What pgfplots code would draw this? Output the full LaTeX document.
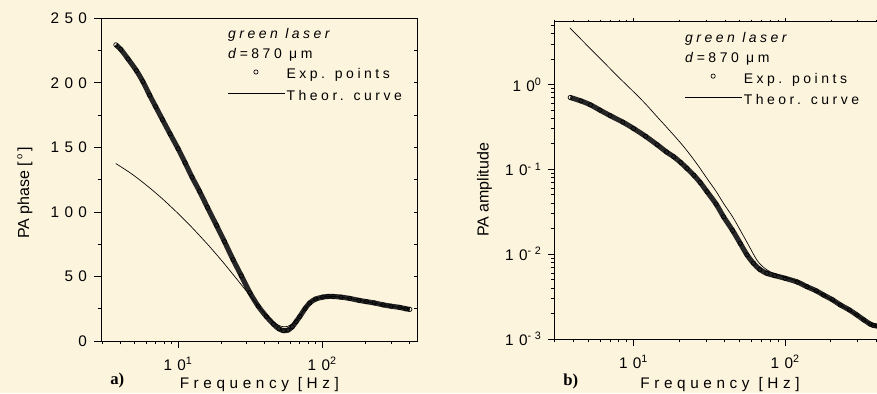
\documentclass[border=0pt]{standalone}
\usepackage{fontspec}
\setmainfont{Liberation Sans}
\newfontfamily\trkA[LetterSpace=35]{Liberation Sans}
\newfontfamily\trkB[LetterSpace=30]{Liberation Sans}
\newfontfamily\trkC[LetterSpace=25]{Liberation Sans}
\newfontfamily\serif{Liberation Serif}
\usepackage{pgfplots}
\usepackage{pgfplotstable}
\pgfplotsset{compat=1.18}
\definecolor{bg}{RGB}{253,244,221}

\pgfplotstableread{
f p
3.7 229.5
4.0 226
4.5 218.5
5.14 209.5
5.7 201
6.35 190.5
7.0 181.5
7.8 171.5
8.8 160.5
10 149
11.2 138
12.5 127
14.1 116
16.0 103.5
18.5 89.5
21 77
24.1 63
27.5 50.5
31.5 37.5
36 27
41 19
46 13
50 9.5
54 8
58 8.5
62 11
66 15
70 19
76 25
82 29.5
90 32.5
101 34
110 34.5
119 34.5
135 34
155 33
180 31.5
203 30.5
230 29.5
265 28
300 27
346 26
380 25
406 24.5
}\phaseexp

\pgfplotstableread{
f p
3.7 137.5
4.5 131.4
5.14 126.8
6.35 118.7
7.5 111.8
8.5 106.3
10 98.8
12 90
14.1 81.7
16 75
18.5 67
21 59.7
24.1 51.5
27.5 43.6
31.5 35.3
36 27.3
41 20
46 14.8
50 12.1
54 11
58 11.5
62 13.3
66 16
70 19.5
76 25
82 29.5
90 32.5
101 34
120 34.5
155 33
203 30.5
265 28
346 26
406 24.5
}\phasetheo

\pgfplotstableread{
f a
3.82 0.703
4.5 0.64
5.2 0.575
6.0 0.499
7.0 0.43
8.5 0.36
10 0.303
12 0.245
14.3 0.195
16.5 0.16
18.4 0.1406
20.5 0.12
22.5 0.1025
25 0.085
27.5 0.07
30.5 0.0545
35 0.039
39.2 0.0276
45 0.019
50.5 0.0134
56 0.0098
61.8 0.0078
68 0.0066
75.7 0.00594
85 0.0056
100 0.00519
120 0.0047
139 0.00414
160 0.0037
179 0.0033
205 0.0029
231 0.00252
265 0.0022
297 0.00192
330 0.00168
363 0.0015
380 0.00145
405 0.00142
}\ampexp

\pgfplotstableread{
f a
3.8 4.65
4.4 3.56
5.18 2.65
6.0 2.04
6.67 1.68
8.0 1.21
10 0.82
12 0.59
14.3 0.416
16.3 0.322
18.4 0.253
21 0.193
23.7 0.147
27 0.107
30.5 0.078
35 0.055
39.2 0.0397
45 0.0275
50.5 0.0192
57 0.013
65 0.00853
72 0.0070
79.6 0.0062
90 0.0057
100 0.00533
120 0.0048
139 0.0042
179 0.0033
231 0.00252
297 0.00192
363 0.0015
405 0.00142
}\amptheo

\newcommand\tickfont{\trkA\fontsize{11.5}{13}\selectfont}
\newcommand\labfont{\trkB\fontsize{11.5}{13}\selectfont}
\newcommand\legfont{\trkC\fontsize{10.5}{12}\selectfont}
\newcommand\decade{\pgfmathparse{int(round(\tick/2.302585))}\pgfmathresult}
\tikzset{txtlab/.style={font=\legfont, inner sep=0pt, anchor=base west}}
\pgfplotsset{
  panelstyle/.style={
    scale only axis,
    axis line style={black, line width=0.7pt},
    tick style={black, line width=0.6pt},
    tick align=outside, xtick pos=left, ytick pos=left,
    major tick length=5pt, minor tick length=2.5pt,
    xticklabel={\tickfont 10\textsuperscript{\decade}},
    xticklabel style={anchor=base, yshift=-17pt},
    xlabel style={at={(axis description cs:0.5,0)}, anchor=base, font=\labfont},
    ylabel style={anchor=center, font=\fontsize{12}{14}\selectfont},
    legend style={draw=none, fill=none, inner sep=0pt, row sep=3.3pt,
      font=\legfont,
      nodes={inner sep=1pt, text height=8pt, text depth=2.5pt},
      /tikz/every even column/.append style={column sep=3pt}},
    legend cell align=left,
  },
  explegend/.style={legend image code/.code={\path (0pt,0pt) (42.5pt,0pt); \draw[##1] plot coordinates {(20.75pt,2.5pt)};}},
  theolegend/.style={legend image code/.code={\draw[##1] (0pt,2.5pt) -- (42.5pt,2.5pt);}},
}

\begin{document}
\begin{tikzpicture}
\useasboundingbox (0,0) rectangle (657.75pt,294.75pt);
\fill[bg] (0,0) rectangle (657.75pt,294.75pt);

% ---------- panel a ----------
\begin{axis}[panelstyle, xmode=log, anchor=south west, at={(75.75pt,39pt)}, width=237.5pt, height=242pt,
  xmin=2.92, xmax=460, ymin=0, ymax=250,
  ytick={0,50,100,150,200,250}, yticklabels={0,50,100,150,200,250}, minor y tick num=1,
  yticklabel style={font=\tickfont, xshift=-2pt},
  xlabel={Frequency [Hz]}, xlabel style={yshift=-35.25pt},
  ylabel={PA phase [\,\raisebox{0.8ex}{\scriptsize o}\,]},
  ylabel style={at={(axis description cs:-0.24,0.459)}},
  legend style={at={(0.40,0.85)}, anchor=north west},
]
\addplot[black!85, line width=3.8pt, smooth, forget plot] table {\phaseexp};
\addplot[only marks, mark=o, mark size=1.6pt, black, mark options={line width=0.5pt}, explegend]
  table {\phaseexp};
\addlegendentry{Exp. points}
\addplot[black, line width=0.5pt, smooth, theolegend] table {\phasetheo};
\addlegendentry{Theor. curve}
\node[txtlab] at (rel axis cs:0.4006,0.939) {\itshape green laser};
\node[txtlab] at (rel axis cs:0.4006,0.877) {\textit{d}=870 μm};
\end{axis}
\begin{axis}[scale only axis, xmode=log, anchor=south west, at={(75.75pt,39pt)}, width=237.5pt, height=242pt,
  xmin=2.92, xmax=460, ymin=0, ymax=250, hide x axis,
  axis line style={draw=none}, tick style={black, line width=0.6pt},
  ytick pos=right, tick align=inside, ytick={0,25,...,250}, yticklabels={},
  major tick length=3pt]
\end{axis}

% ---------- panel b ----------
\begin{axis}[panelstyle, xmode=log, ymode=log, anchor=south west, at={(415.7pt,40.5pt)}, width=248.6pt, height=238pt,
  xmin=3.0, xmax=460, ymin=1e-3, ymax=5.5,
  yticklabel={\tickfont 10\textsuperscript{\decade}},
  yticklabel style={xshift=-1pt},
  xlabel={Frequency [Hz]}, xlabel style={yshift=-36.75pt},
  ylabel={PA amplitude},
  ylabel style={at={(axis description cs:-0.2106,0.47)}},
  legend style={at={(0.394,0.845)}, anchor=north west},
]
\addplot[black!85, line width=3.8pt, smooth, forget plot] table {\ampexp};
\addplot[only marks, mark=o, mark size=1.6pt, black, mark options={line width=0.5pt}, explegend]
  table {\ampexp};
\addlegendentry{Exp. points}
\addplot[black, line width=0.5pt, smooth, theolegend] table {\amptheo};
\addlegendentry{Theor. curve}
\node[txtlab] at (rel axis cs:0.394,0.933) {\itshape green laser};
\node[txtlab] at (rel axis cs:0.394,0.870) {\textit{d}=870 μm};
\end{axis}
\begin{axis}[scale only axis, xmode=log, ymode=log, anchor=south west, at={(415.7pt,40.5pt)}, width=248.6pt, height=238pt,
  xmin=3.0, xmax=460, ymin=1e-3, ymax=5.5, hide y axis,
  axis line style={draw=none}, tick style={black, line width=0.5pt},
  xtick pos=right, tick align=outside, xticklabels={},
  major tick length=2.5pt, minor tick length=1.5pt]
\end{axis}

\node[font=\serif\bfseries\fontsize{12.5}{14}\selectfont, anchor=base west, inner sep=0pt] at (82.5pt,6.75pt) {a)};
\node[font=\serif\bfseries\fontsize{12.5}{14}\selectfont, anchor=base west, inner sep=0pt] at (422.25pt,6pt) {b)};
\end{tikzpicture}
\end{document}
